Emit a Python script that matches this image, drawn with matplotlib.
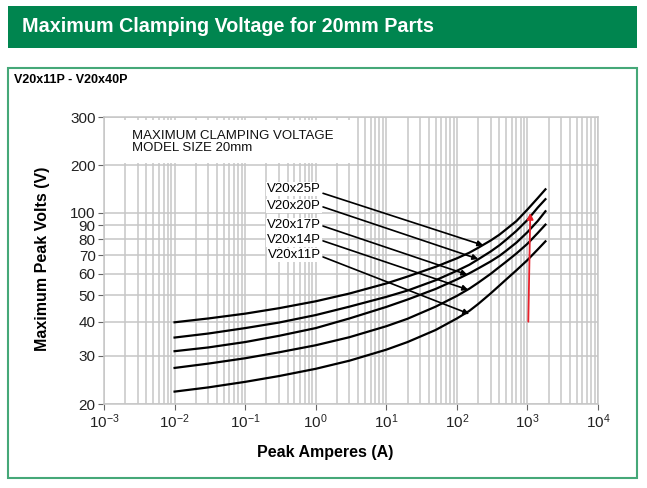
import numpy as np
import matplotlib
matplotlib.use('Agg')
import matplotlib.pyplot as plt
from matplotlib.patches import Rectangle
from matplotlib import ticker

# peak current (A) and clamping voltage (V)
amps = [0.01, 0.03, 0.1, 0.3, 1, 3, 10, 20, 50, 100, 150, 200, 300, 400, 500, 700, 1000, 1400, 1800]
v20x25p = [39.8, 41.1, 42.8, 44.8, 47.5, 50.7, 55.2, 58.5, 63.5, 68.2, 71.5, 74.5, 79.2, 83.2, 87.1, 93.4, 105.0, 124.0, 140.8]
v20x20p = [35.0, 36.2, 37.9, 39.7, 42.3, 45.4, 49.3, 52.0, 56.7, 61.4, 64.6, 67.6, 72.2, 76.1, 79.8, 86.0, 94.2, 108.0, 122.0]
v20x17p = [31.2, 32.2, 33.7, 35.5, 37.9, 41.1, 45.3, 48.2, 52.7, 57.1, 60.1, 62.6, 66.4, 69.6, 72.7, 77.9, 85.0, 93.4, 102.4]
v20x14p = [27.1, 28.1, 29.4, 30.9, 32.8, 35.1, 38.5, 41.0, 45.4, 49.7, 52.8, 55.5, 59.8, 63.4, 66.3, 71.1, 77.1, 84.4, 90.6]
v20x11p = [22.2, 23.0, 24.1, 25.3, 26.9, 28.8, 31.6, 33.7, 37.3, 41.1, 43.8, 46.4, 50.7, 54.2, 57.1, 61.7, 67.2, 73.5, 78.7]

models = ['V20x25P', 'V20x20P', 'V20x17P', 'V20x14P', 'V20x11P']
curves = [v20x25p, v20x20p, v20x17p, v20x14p, v20x11p]
# where each leader arrow points on its curve
arrow_tips = [(237, 76.1), (201, 67.8), (141, 59.4), (145, 52.3), (150, 42.7)]

y_ticks = [20, 30, 40, 50, 60, 70, 80, 90, 100, 200, 300]
x_ticks = [1e-3, 1e-2, 1e-1, 1e0, 1e1, 1e2, 1e3, 1e4]

narrow = ['Liberation Sans Narrow', 'Liberation Sans', 'DejaVu Sans']
plt.rcParams['font.family'] = ['Liberation Sans', 'DejaVu Sans']
plt.rcParams['mathtext.fontset'] = 'custom'
plt.rcParams['mathtext.rm'] = 'Liberation Sans'

# the printed chart squeezes the 100..200 band, so use a piecewise log scale
K = 0.58
L200 = np.log10(200)
T200 = 2 + (L200 - 2) * K


def fwd(v):
    lv = np.log10(np.clip(np.asarray(v, dtype=float), 1e-9, None))
    return np.where(lv <= 2, lv, np.where(lv <= L200, 2 + (lv - 2) * K, T200 + (lv - L200)))


def inv(t):
    t = np.asarray(t, dtype=float)
    return np.where(t <= 2, 10 ** t, np.where(t <= T200, 10 ** (2 + (t - 2) / K), 10 ** (L200 + t - T200)))


W, H = 647, 488
fig = plt.figure(figsize=(W / 100, H / 100), dpi=100)


def fx(x):
    return x / W


def fy(y):
    return 1 - y / H


# green header
fig.add_artist(Rectangle((fx(8), fy(48)), (637 - 8) / W, (48 - 6) / H,
                         facecolor='#00854f', edgecolor='none'))
fig.text(fx(22), fy(27), 'Maximum Clamping Voltage for 20mm Parts', color='white',
         fontsize=14.2, fontweight='bold', family=narrow, va='center')

# frame around the chart
fig.add_artist(Rectangle((fx(8), fy(478)), (637 - 8) / W, (478 - 68) / H,
                         facecolor='none', edgecolor='#45a878', lw=1.5))
fig.text(fx(14), fy(80), 'V20x11P - V20x40P', fontsize=9, fontweight='bold',
         family=narrow, va='center')

ax = fig.add_axes([104 / W, 1 - 404 / H, 494 / W, 287 / H])
ax.set_xscale('log')
ax.set_yscale('function', functions=(fwd, inv))
ax.set_xlim(1e-3, 1e4)
ax.set_ylim(20, 300)

ax.set_yticks(y_ticks)
ax.set_yticklabels([str(v) for v in y_ticks])
ax.yaxis.set_minor_locator(ticker.NullLocator())
ax.set_xticks(x_ticks)
ax.xaxis.set_major_formatter(ticker.LogFormatterSciNotation())
ax.xaxis.set_minor_locator(ticker.LogLocator(base=10, subs=np.arange(2, 10), numticks=20))
ax.xaxis.set_minor_formatter(ticker.NullFormatter())

grid_col = '#c6c6c6'
ax.grid(True, which='major', axis='both', color=grid_col, lw=1.1)
ax.grid(True, which='minor', axis='x', color=grid_col, lw=1.1)
for s in ax.spines.values():
    s.set_color(grid_col)
    s.set_linewidth(1.1)
ax.tick_params(axis='both', which='major', direction='out', length=4, width=0.8,
               color='#666666', labelsize=11, labelcolor='#222222', pad=2)
ax.tick_params(axis='x', which='minor', length=0)

# white panel behind the chart title
ax.add_patch(Rectangle((0.002, 0.84), 0.496, 0.15, transform=ax.transAxes,
                       facecolor='white', edgecolor='none', zorder=2))
ax.text(0.057, 0.955, 'MAXIMUM CLAMPING VOLTAGE\nMODEL SIZE 20mm', transform=ax.transAxes,
        fontsize=9.5, va='top', ha='left', linespacing=1.05, color='#111111', zorder=3)

for vals in curves:
    ax.plot(amps, vals, color='black', lw=1.6, zorder=3)

label_y = [141.5, 110.6, 90.2, 79.9, 70.2]
start_y = [132.9, 109.0, 89.5, 79.0, 69.0]
for name, ly, sy, tip in zip(models, label_y, start_y, arrow_tips):
    ax.text(1.19, ly, name, ha='right', va='center', fontsize=9.5, zorder=4,
            bbox=dict(facecolor='white', edgecolor='none', pad=0.8))
    ax.annotate('', xy=tip, xytext=(1.27, sy), zorder=4,
                arrowprops=dict(arrowstyle='-|>', color='black', lw=1.2,
                                mutation_scale=8, shrinkA=0, shrinkB=0))

# red marker at 1000 A
ax.annotate('', xy=(1098, 100), xytext=(1029, 40), zorder=4,
            arrowprops=dict(arrowstyle='-|>', color='#e8202a', lw=1.3,
                            mutation_scale=9, shrinkA=0, shrinkB=0))

fig.text(fx(325), fy(452), 'Peak Amperes (A)', fontsize=11.5, fontweight='bold',
         family=narrow, ha='center', va='center')
fig.text(fx(43), fy(259), 'Maximum Peak Volts (V)', fontsize=11.5, fontweight='bold',
         family=narrow, ha='center', va='center', rotation=90)

fig.savefig('out.png', dpi=100)
